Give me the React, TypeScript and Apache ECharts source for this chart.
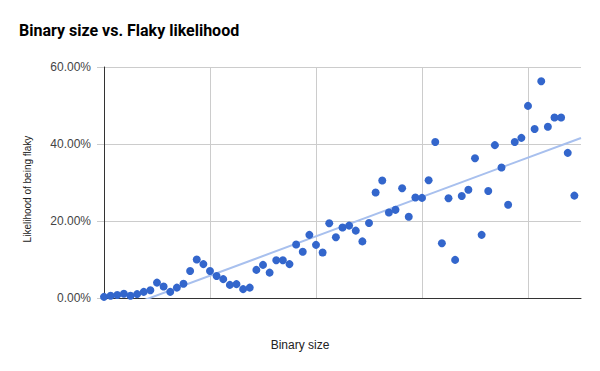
import React, { useEffect, useRef } from "react";
import * as echarts from "echarts";

const titleText = "Binary size vs. Flaky likelihood";
const xAxisName = "Binary size";
const yAxisName = "Likelihood of being flaky";
const yTicks = [0, 20, 40, 60];
const xMax = 72;
const xGridStep = 16;
// Likelihood of being flaky (%) per binary, ordered by binary size
const flakyPct = [
  0.3, 0.6, 0.8, 1.1, 0.6, 1.0, 1.6, 2.0, 4.0, 3.0,
  1.6, 2.7, 3.7, 7.0, 10.0, 8.8, 7.0, 5.7, 4.9, 3.4,
  3.6, 2.3, 2.7, 7.3, 8.6, 6.6, 9.8, 9.8, 8.8, 13.9,
  12.0, 16.4, 13.8, 11.8, 19.4, 15.8, 18.3, 18.8, 17.5, 14.7,
  19.5, 27.4, 30.5, 22.2, 22.9, 28.5, 21.1, 26.1, 26.0, 30.6,
  40.5, 14.2, 25.9, 9.9, 26.5, 28.1, 36.3, 16.4, 27.8, 39.7,
  33.9, 24.2, 40.5, 41.6, 49.9, 43.9, 56.3, 44.5, 46.9, 46.9,
  37.7, 26.6,
];

export default function App() {
  const ref = useRef<HTMLDivElement>(null);
  useEffect(() => {
    const chart = echarts.init(ref.current!, null, { renderer: "svg" });
    const points = flakyPct.map((v, i) => [i, v]);
    // linear trendline (least squares), as the original chart's trendline
    const n = points.length;
    let sx = 0, sy = 0, sxx = 0, sxy = 0;
    points.forEach(([x, y]) => { sx += x; sy += y; sxx += x * x; sxy += x * y; });
    const slope = (n * sxy - sx * sy) / (n * sxx - sx * sx);
    const icpt = (sy - slope * sx) / n;
    const trend = [[0, icpt], [xMax, icpt + slope * xMax]];

    chart.setOption({
      animation: false,
      title: {
        text: titleText,
        left: 14,
        top: 17,
        textStyle: { fontFamily: "Roboto", fontWeight: "bold", fontSize: 16, color: "#000" },
      },
      grid: { left: 104, right: 19, top: 67, bottom: 73 },
      xAxis: {
        type: "value",
        min: 0,
        max: xMax,
        interval: xGridStep,
        axisLine: { show: true, onZero: false, lineStyle: { color: "#333", width: 1 } },
        axisTick: { show: false },
        axisLabel: { show: false },
        splitLine: { show: true, showMinLine: false, showMaxLine: false, lineStyle: { color: "#cccccc", width: 1 } },
      },
      yAxis: {
        type: "value",
        min: yTicks[0],
        max: yTicks[yTicks.length - 1],
        interval: yTicks[1] - yTicks[0],
        name: yAxisName,
        nameLocation: "middle",
        nameGap: 72,
        nameTextStyle: { fontFamily: "Liberation Sans", fontSize: 10, color: "#222", padding: [0, 13, 0, 0] },
        axisLine: { show: true, lineStyle: { color: "#333", width: 1 } },
        axisTick: { show: true, length: 7, lineStyle: { color: "#cccccc" } },
        axisLabel: {
          margin: 13,
          fontFamily: "Liberation Sans",
          fontSize: 12,
          color: "#444",
          formatter: (v: number) => v.toFixed(2) + "%",
        },
        splitLine: { show: true, lineStyle: { color: "#cccccc", width: 1 } },
      },
      graphic: [
        {
          type: "text",
          x: 300,
          y: 345,
          style: {
            text: xAxisName,
            fontFamily: "Liberation Sans",
            fontSize: 12,
            fill: "#222",
            textAlign: "center",
            textVerticalAlign: "middle",
          },
        },
      ],
      series: [
        {
          type: "line",
          data: trend,
          showSymbol: false,
          symbol: "none",
          clip: true,
          z: 1,
          lineStyle: { color: "#a8c0ee", width: 2 },
          silent: true,
        },
        {
          type: "scatter",
          data: points,
          symbolSize: 8,
          z: 2,
          itemStyle: { color: "#3366cc", opacity: 1 },
        },
      ],
    });
    return () => chart.dispose();
  }, []);
  return <div ref={ref} style={{ position: "absolute", left: 0, top: 0, width: 600, height: 371 }} />;
}
